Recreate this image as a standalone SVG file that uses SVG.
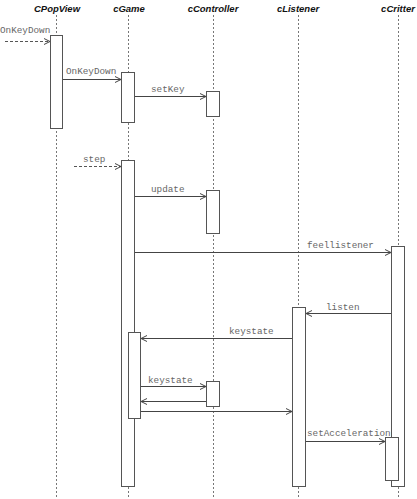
<svg xmlns="http://www.w3.org/2000/svg" width="417" height="499" viewBox="0 0 417 499">
<style>
.hdr{font-family:"Liberation Sans",Arial,sans-serif;font-weight:bold;font-style:italic;font-size:9.5px;fill:#111;text-anchor:middle}
.lbl{font-family:"Liberation Mono","Courier New",monospace;font-size:9.3px;fill:#666}
.life{stroke:#777;stroke-width:1;stroke-dasharray:2 2;fill:none}
.act{fill:#fff;stroke:#555;stroke-width:1}
.msg{stroke:#444;stroke-width:1;fill:none;marker-end:url(#arr)}
.dash{stroke:#555;stroke-width:1;fill:none;stroke-dasharray:3 2;marker-end:url(#arr)}
</style>
<defs>
<marker id="arr" viewBox="0 0 8 8" refX="7" refY="4" markerWidth="8" markerHeight="8" markerUnits="userSpaceOnUse" orient="auto">
<path d="M1,1 L7,4 L1,7" fill="none" stroke="#444" stroke-width="1"/>
</marker>
</defs>
<rect width="417" height="499" fill="#fff"/>
<g id="CPopView">
<text class="hdr" x="57" y="12">CPopView</text>
<line class="life" x1="56.5" y1="15" x2="56.5" y2="497"/>
<rect class="act" x="50.5" y="35.5" width="12" height="93"/>
</g>
<g id="cGame">
<text class="hdr" x="129" y="12">cGame</text>
<line class="life" x1="128.5" y1="15" x2="128.5" y2="497"/>
<rect class="act" x="121.5" y="72.5" width="13" height="50"/>
<rect class="act" x="121.5" y="160.5" width="13" height="326"/>
<rect class="act" x="128.5" y="332.5" width="12" height="86"/>
</g>
<g id="cController">
<text class="hdr" x="213" y="12">cController</text>
<line class="life" x1="213.5" y1="15" x2="213.5" y2="497"/>
<rect class="act" x="206.5" y="91.5" width="13" height="25"/>
<rect class="act" x="206.5" y="190.5" width="13" height="43"/>
<rect class="act" x="206.5" y="381.5" width="13" height="25"/>
</g>
<g id="cListener">
<text class="hdr" x="298" y="12">cListener</text>
<line class="life" x1="298.5" y1="15" x2="298.5" y2="497"/>
<rect class="act" x="292.5" y="307.5" width="13" height="179"/>
</g>
<g id="cCritter">
<text class="hdr" x="398" y="12">cCritter</text>
<line class="life" x1="398.5" y1="15" x2="398.5" y2="497"/>
<rect class="act" x="391.5" y="246.5" width="13" height="240"/>
<rect class="act" x="385.5" y="437.5" width="13" height="43"/>
</g>
<g id="connectors">
<line class="dash" x1="5" y1="41.5" x2="50" y2="41.5"/>
<text class="lbl" x="0" y="33">OnKeyDown</text>
<line class="msg" x1="63" y1="79.5" x2="121" y2="79.5"/>
<text class="lbl" x="66" y="74">OnKeyDown</text>
<line class="msg" x1="135" y1="96.5" x2="206" y2="96.5"/>
<text class="lbl" x="151" y="92">setKey</text>
<line class="dash" x1="74" y1="166.5" x2="121" y2="166.5"/>
<text class="lbl" x="83" y="162">step</text>
<line class="msg" x1="135" y1="196.5" x2="206" y2="196.5"/>
<text class="lbl" x="151" y="192">update</text>
<line class="msg" x1="135" y1="252.5" x2="391" y2="252.5"/>
<text class="lbl" x="307" y="248">feellistener</text>
<line class="msg" x1="391" y1="313.5" x2="306" y2="313.5"/>
<text class="lbl" x="326" y="310">listen</text>
<line class="msg" x1="292" y1="338.5" x2="141" y2="338.5"/>
<text class="lbl" x="229" y="334">keystate</text>
<line class="msg" x1="141" y1="386.5" x2="206" y2="386.5"/>
<text class="lbl" x="148" y="383">keystate</text>
<line class="msg" x1="206" y1="401.5" x2="141" y2="401.5"/>
<line class="msg" x1="141" y1="411.5" x2="292" y2="411.5"/>
<line class="msg" x1="306" y1="441.5" x2="385" y2="441.5"/>
<text class="lbl" x="307" y="436">setAcceleration</text>
</g>
</svg>
